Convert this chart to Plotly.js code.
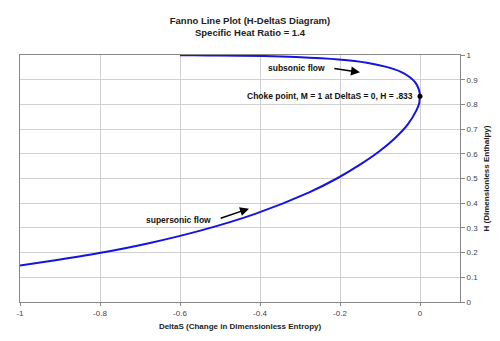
<!DOCTYPE html>
<html>
<head>
<meta charset="utf-8">
<script src="https://cdn.plot.ly/plotly-3.0.1.min.js"></script>
<style>html,body{margin:0;padding:0;background:#fff;}#chart{width:500px;height:341px;}</style>
</head>
<body>
<div id="chart"></div>
<script>
// Fanno line (subsonic branch, through the choke point, then supersonic branch)
var deltaS = [-0.600, -0.566, -0.503, -0.390, -0.310, -0.203, -0.133, -0.084, -0.049, -0.026, -0.011, -0.003, -0.001, 0.000, -0.001, -0.002, -0.009, -0.031, -0.064, -0.104, -0.150, -0.208, -0.277, -0.412, -0.547, -0.678, -0.802, -0.920, -1.000];
var enthalpyH = [0.999, 0.999, 0.998, 0.996, 0.992, 0.982, 0.969, 0.952, 0.933, 0.911, 0.887, 0.861, 0.847, 0.833, 0.819, 0.805, 0.776, 0.718, 0.661, 0.607, 0.556, 0.500, 0.444, 0.357, 0.290, 0.238, 0.198, 0.167, 0.148];
var chokeS = [0];
var chokeH = [0.833];
var xTickVals = [-1, -0.8, -0.6, -0.4, -0.2, 0];
var xTickLabels = ["-1", "-0.8", "-0.6", "-0.4", "-0.2", "0"];
var yTickVals = [0, 0.1, 0.2, 0.3, 0.4, 0.5, 0.6, 0.7, 0.8, 0.9, 1];
var yTickLabels = ["0", "0.1", "0.2", "0.3", "0.4", "0.5", "0.6", "0.7", "0.8", "0.9", "1"];
var titleLines = ["Fanno Line Plot (H-DeltaS Diagram)", "Specific Heat Ratio = 1.4"];
var xTitle = "DeltaS (Change in Dimensionless Entropy)";
var yTitle = "H (Dimensionless Enthalpy)";
var chokeLabel = "Choke point, M = 1 at DeltaS = 0, H = .833";
var subsonicLabel = "subsonic flow";
var supersonicLabel = "supersonic flow";

var FONT = "Liberation Sans, Arial, sans-serif";

var traces = [
  {x: deltaS, y: enthalpyH, mode: "lines", type: "scatter",
   line: {color: "rgb(20,20,225)", width: 2, shape: "spline", smoothing: 0.8},
   hoverinfo: "skip", showlegend: false},
  {x: chokeS, y: chokeH, mode: "markers", type: "scatter",
   marker: {color: "#000", size: 5}, hoverinfo: "skip", showlegend: false}
];

var annFont = {family: FONT, size: 8.5, color: "#111", weight: "bold"};
var layout = {
  width: 500, height: 341,
  margin: {l: 20, r: 40, t: 55, b: 39},
  paper_bgcolor: "#fff", plot_bgcolor: "#fff",
  font: {family: FONT, size: 8, color: "#444"},
  showlegend: false,
  title: {text: titleLines.join("<br>"), font: {family: FONT, size: 9.5, color: "#222", weight: "bold"},
          x: 0.5, xanchor: "center", y: 0.93, yref: "container", yanchor: "middle"},
  xaxis: {range: [-1, 0.1], tickvals: xTickVals, ticktext: xTickLabels,
          showgrid: true, gridcolor: "#d0d0d0", gridwidth: 1,
          zeroline: false, showline: true, linecolor: "#888", linewidth: 1, mirror: true,
          ticks: "outside", ticklen: 3, tickcolor: "#888",
          tickfont: {family: FONT, size: 8, color: "#444"},
          title: {text: xTitle, font: {family: FONT, size: 8, color: "#222", weight: "bold"}, standoff: 6}},
  yaxis: {range: [0, 1], side: "right", tickvals: yTickVals, ticktext: yTickLabels,
          showgrid: true, gridcolor: "#d0d0d0", gridwidth: 1,
          zeroline: false, showline: true, linecolor: "#888", linewidth: 1, mirror: true,
          ticks: "outside", ticklen: 4, tickcolor: "#888",
          tickfont: {family: FONT, size: 8, color: "#444"},
          title: {text: yTitle, font: {family: FONT, size: 8, color: "#222", weight: "bold"}, standoff: 6}},
  annotations: [
    {x: -0.0125, y: 0.835, xref: "x", yref: "y", text: chokeLabel, showarrow: false,
     xanchor: "right", yanchor: "middle", font: annFont},
    {x: -0.2325, y: 0.947, xref: "x", yref: "y", text: subsonicLabel, showarrow: false,
     xanchor: "right", yanchor: "middle", font: annFont},
    {x: -0.5175, y: 0.333, xref: "x", yref: "y", text: supersonicLabel, showarrow: false,
     xanchor: "right", yanchor: "middle", font: annFont},
    {x: -0.150, y: 0.930, ax: -0.218, ay: 0.946, xref: "x", yref: "y", axref: "x", ayref: "y",
     text: "", showarrow: true, arrowhead: 2, arrowsize: 1.2, arrowwidth: 1.5, arrowcolor: "#000"},
    {x: -0.4275, y: 0.378, ax: -0.502, ay: 0.337, xref: "x", yref: "y", axref: "x", ayref: "y",
     text: "", showarrow: true, arrowhead: 2, arrowsize: 1.2, arrowwidth: 1.5, arrowcolor: "#000"}
  ]
};

Plotly.newPlot("chart", traces, layout, {displayModeBar: false, staticPlot: true});
</script>
</body>
</html>
